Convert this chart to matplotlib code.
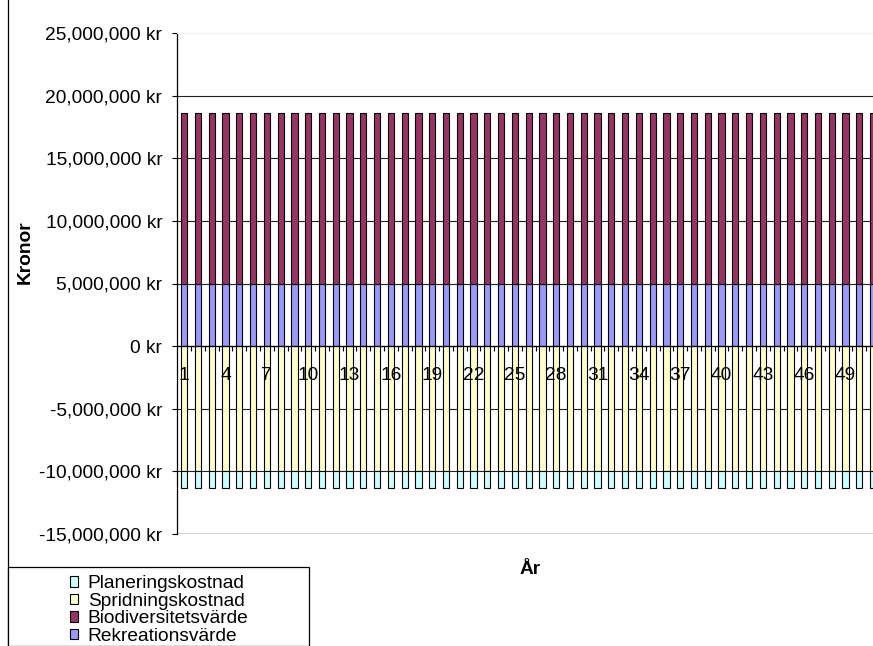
import matplotlib
matplotlib.use("Agg")
import matplotlib.pyplot as plt
from matplotlib.patches import Rectangle
from matplotlib.ticker import FixedLocator, FuncFormatter, NullFormatter

plt.rcParams['font.family'] = ['Liberation Sans', 'DejaVu Sans']

# yearly values in kronor, 51 years
years = list(range(1, 52))
rekreation = [5000000] * len(years)
biodiversitet = [13650000] * len(years)
spridning = [-10000000] * len(years)
planering = [-1350000] * len(years)

series_names = ["Planeringskostnad", "Spridningskostnad", "Biodiversitetsvärde", "Rekreationsvärde"]
series_colors = ["#CCFFFF", "#FFFFCC", "#993366", "#9999FF"]

W, H = 873, 646
FS = 13.8
fig = plt.figure(figsize=(W / 100, H / 100), dpi=100)
fig.patch.set_facecolor("white")

# plot area in pixels (runs past the right edge of the figure)
left, top, right, bottom = 177.3, 33.0, 880.0, 534.0
ax = fig.add_axes([left / W, 1 - bottom / H, (right - left) / W, (bottom - top) / H])

x = list(range(len(years)))
bw = 0.45
kw = dict(width=bw, edgecolor="black", linewidth=0.8, zorder=3)
ax.bar(x, rekreation, color=series_colors[3], **kw)
ax.bar(x, biodiversitet, bottom=rekreation, color=series_colors[2], **kw)
ax.bar(x, spridning, color=series_colors[1], **kw)
ax.bar(x, planering, bottom=spridning, color=series_colors[0], **kw)

ax.set_xlim(-0.5, len(years) - 0.5)
ax.set_ylim(-15000000, 25000000)

# y axis
ax.yaxis.set_major_locator(FixedLocator(range(-15000000, 25000001, 5000000)))
ax.yaxis.set_major_formatter(FuncFormatter(lambda v, p: f"{int(v):,} kr"))
ax.tick_params(axis="y", direction="out", length=3.6, width=0.8, pad=7.2, labelsize=FS)
for g in range(-10000000, 20000001, 5000000):
    ax.axhline(g, color="#222222", linewidth=0.8, zorder=1)
ax.axhline(-15000000, color="#cccccc", linewidth=1.2, zorder=1)

# category axis through zero: ticks between years, every third year labelled
ax.spines["bottom"].set_position(("data", 0))
ax.spines["bottom"].set_zorder(4)
ax.spines["bottom"].set_linewidth(0.9)
ax.xaxis.set_zorder(5)
ax.xaxis.set_major_locator(FixedLocator([i + 0.5 for i in x[:-1]]))
ax.xaxis.set_major_formatter(NullFormatter())
ax.tick_params(axis="x", which="major", direction="out", length=3.6, width=0.8)
ax.xaxis.set_minor_locator(FixedLocator(x[::3]))
ax.xaxis.set_minor_formatter(FuncFormatter(lambda v, p: str(years[int(round(v))])))
ax.tick_params(axis="x", which="minor", length=0, pad=15, labelsize=FS)

ax.spines["right"].set_visible(False)
ax.spines["top"].set_color("#f2f2f2")
ax.spines["left"].set_linewidth(0.9)

fig.text(530 / W, 1 - 570 / H, "År", fontsize=FS, fontweight="bold", ha="center", va="center")
fig.text(25 / W, 1 - 252 / H, "Kronor", fontsize=FS, fontweight="bold", rotation=90,
         ha="center", va="center")

# chart frame edge and legend box
fig.add_artist(plt.Line2D([7.5 / W, 7.5 / W], [0, 1], color="black", linewidth=0.9))
fig.add_artist(Rectangle((7.5 / W, 0), (309 - 7.5) / W, (H - 567) / H, transform=fig.transFigure,
                         facecolor="white", edgecolor="black", linewidth=0.9, zorder=5))
handles = [Rectangle((0, 0), 1, 1, facecolor=c, edgecolor="black", linewidth=0.8) for c in series_colors]
leg = fig.legend(handles, series_names, loc="center", bbox_to_anchor=(159 / W, 1 - 610 / H),
                 frameon=False, fontsize=FS, handlelength=0.45, handleheight=0.45,
                 handletextpad=0.5, labelspacing=0.02, borderpad=0)
leg.set_zorder(6)

fig.savefig("out.png", dpi=100)
